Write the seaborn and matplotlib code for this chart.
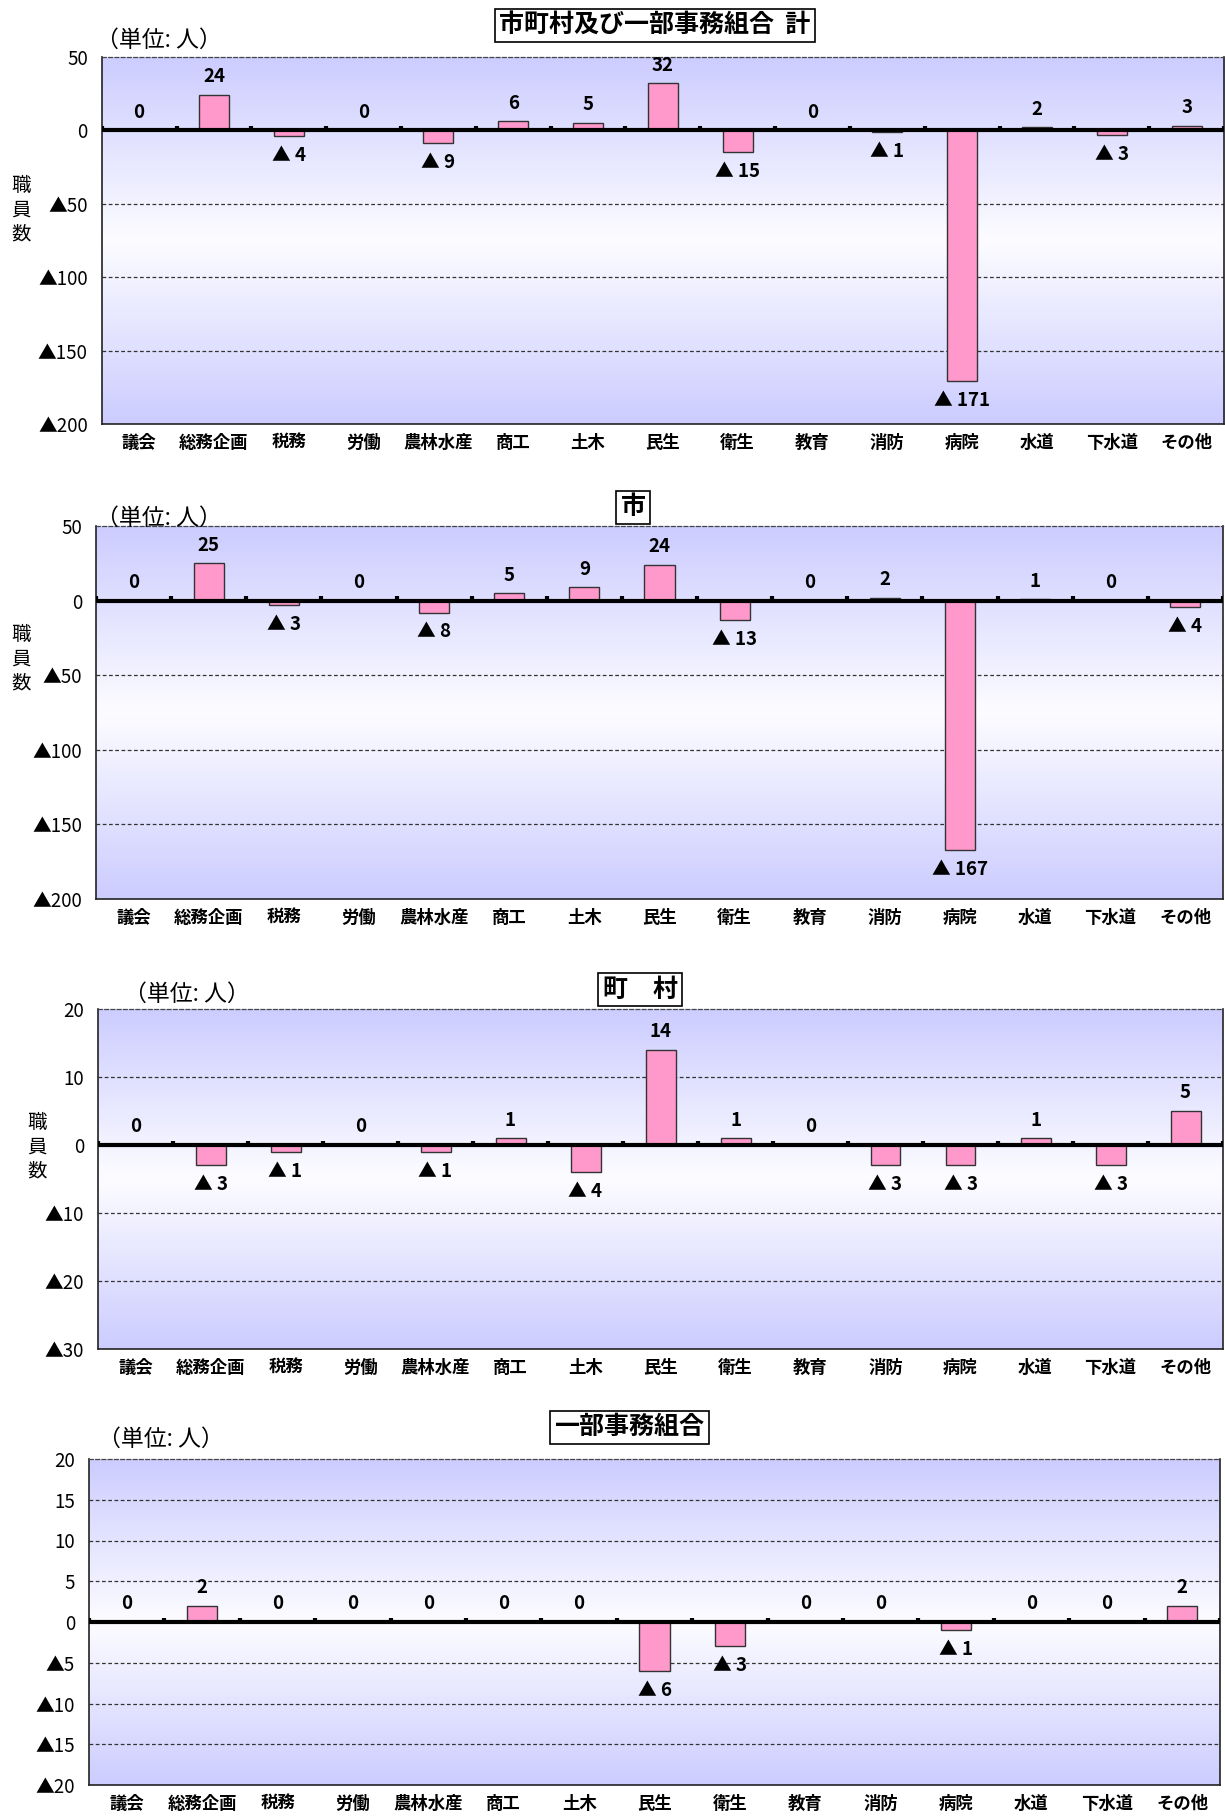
import numpy as np
import pandas as pd
import matplotlib
matplotlib.use("Agg")
import matplotlib.pyplot as plt
from matplotlib.colors import LinearSegmentedColormap
import seaborn as sns

sns.set_theme(style="white")
plt.rcParams['font.family'] = ['Noto Sans CJK JP', 'DejaVu Sans']

categories = ["議会", "総務企画", "税務", "労働", "農林水産", "商工", "土木", "民生",
              "衛生", "教育", "消防", "病院", "水道", "下水道", "その他"]

total_vals = [0, 24, -4, 0, -9, 6, 5, 32, -15, 0, -1, -171, 2, -3, 3]
city_vals = [0, 25, -3, 0, -8, 5, 9, 24, -13, 0, 2, -167, 1, 0, -4]
town_vals = [0, -3, -1, 0, -1, 1, -4, 14, 1, 0, -3, -3, 1, -3, 5]
union_vals = [0, 2, 0, 0, 0, 0, 0, -6, -3, 0, 0, -1, 0, 0, 2]

titles = ["市町村及び一部事務組合  計", "市", "町　村", "一部事務組合"]
ticks_total = [50, 0, -50, -100, -150, -200]
ticks_city = [50, 0, -50, -100, -150, -200]
ticks_town = [20, 10, 0, -10, -20, -30]
ticks_union = [20, 15, 10, 5, 0, -5, -10, -15, -20]

W, H = 1225, 1816
fig = plt.figure(figsize=(W / 100, H / 100), dpi=100)
fig.patch.set_facecolor("white")

def fx(x):
    return x / W

def fy(y):
    return 1 - y / H

def tick_label(v):
    return "0" if v == 0 else (str(v) if v > 0 else "▲" + str(-v))

def val_label(v):
    return str(v) if v >= 0 else "▲ " + str(-v)

lav = (0.80, 0.80, 1.0)
cmap = LinearSegmentedColormap.from_list("bg", [lav, (0.99, 0.99, 1.0), lav])

panels = [
    dict(vals=total_vals, ticks=ticks_total, box=(101.7, 56.7, 1224, 424), title=titles[0],
         title_xy=(655, 25), unit_xy=(96, 40), ylab_xy=(21, 210)),
    dict(vals=city_vals, ticks=ticks_city, box=(96, 526, 1223, 899), title=titles[1],
         title_xy=(633, 507), unit_xy=(96, 518), ylab_xy=(21, 659)),
    dict(vals=town_vals, ticks=ticks_town, box=(98, 1009, 1223, 1349), title=titles[2],
         title_xy=(640, 990), unit_xy=(124, 994), ylab_xy=(37, 1147)),
    dict(vals=union_vals, ticks=ticks_union, box=(89, 1459, 1220, 1785), title=titles[3],
         title_xy=(629, 1427), unit_xy=(98, 1439), ylab_xy=None),
]

n = len(categories)
for p in panels:
    x0, y0, x1, y1 = p["box"]
    ax = fig.add_axes([fx(x0), fy(y1), (x1 - x0) / W, (y1 - y0) / H])
    ticks = p["ticks"]
    ymax, ymin = max(ticks), min(ticks)
    df = pd.DataFrame({"cat": categories, "val": p["vals"]})

    # background gradient
    grad = np.linspace(0, 1, 256).reshape(-1, 1)
    ax.imshow(grad, extent=[-0.5, n - 0.5, ymin, ymax], aspect="auto", cmap=cmap,
              origin="upper", zorder=0, interpolation="bicubic")

    sns.barplot(data=df, x="cat", y="val", order=categories, ax=ax, color="#FF99CC",
                saturation=1, width=0.4, edgecolor="#333333", linewidth=1, zorder=3)

    ax.set_xlim(-0.5, n - 0.5)
    ax.set_ylim(ymin, ymax)
    ax.set_xlabel("")
    ax.set_ylabel("")

    for t in ticks:
        if t not in (0, ymax, ymin):
            ax.axhline(t, color="#333333", lw=0.9, ls=(0, (3, 2)), zorder=1)
    ax.axhline(0, color="black", lw=3, zorder=4)
    bounds = np.arange(n + 1) - 0.5
    tl = (ymax - ymin) * 0.012
    ax.vlines(bounds, 0, tl, color="black", lw=3, zorder=4)

    ax.set_yticks(ticks)
    ax.set_yticklabels([tick_label(t) for t in ticks], fontsize=13.5, color="black")
    ax.set_xticks(range(n))
    ax.set_xticklabels(categories, fontsize=12.5, fontweight="bold", color="black")
    ax.tick_params(axis="both", length=0)
    ax.tick_params(axis="y", pad=10)
    ax.tick_params(axis="x", pad=7)

    for side in ["left", "bottom", "right"]:
        ax.spines[side].set_color("#222222")
        ax.spines[side].set_linewidth(1.2)
    ax.spines["top"].set_color("#444444")
    ax.spines["top"].set_linewidth(0.9)
    ax.spines["top"].set_linestyle((0, (3, 2)))

    for i, v in enumerate(p["vals"]):
        off = -14 if v < 0 else 13
        ax.annotate(val_label(v), (i, v), xytext=(0, off), textcoords="offset points",
                    ha="center", va="center", fontsize=13.5, fontweight="bold",
                    color="black", zorder=5)

    tx, ty = p["title_xy"]
    fig.text(fx(tx), fy(ty), p["title"], ha="center", va="center", fontsize=18,
             fontweight="bold", color="black",
             bbox=dict(boxstyle="square,pad=0.18", facecolor="white", edgecolor="black", lw=1.2))
    ux, uy = p["unit_xy"]
    fig.text(fx(ux), fy(uy), "（単位: 人）", ha="left", va="center", fontsize=16.5, color="black")
    if p["ylab_xy"] is not None:
        lx, ly = p["ylab_xy"]
        fig.text(fx(lx), fy(ly), "職\n員\n数", ha="center", va="center", fontsize=14,
                 color="black", linespacing=1.2)

fig.savefig("out.png", dpi=100, facecolor="white")
